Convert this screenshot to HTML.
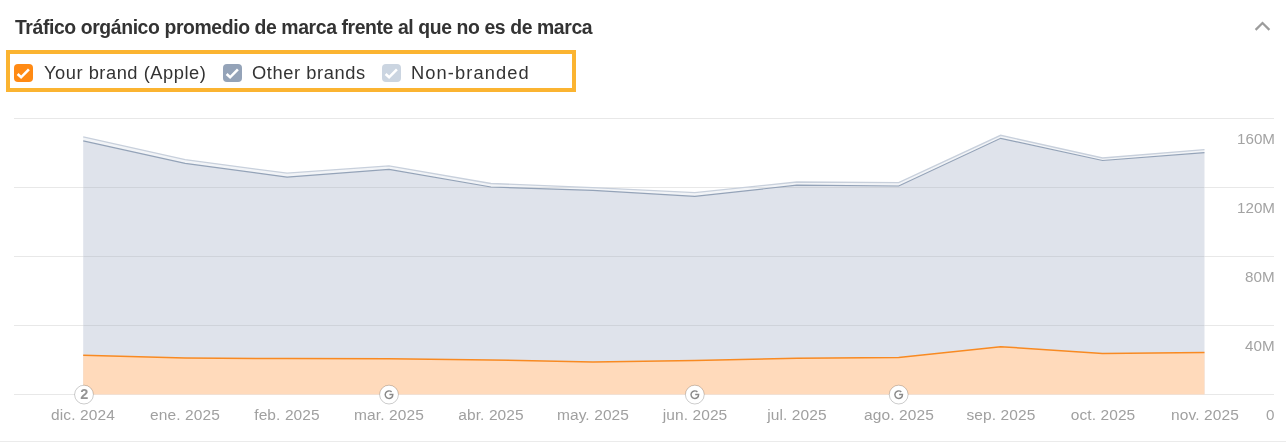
<!DOCTYPE html>
<html><head><meta charset="utf-8"><style>
html,body{margin:0;padding:0;background:#fff;}
body{width:1286px;height:446px;position:relative;overflow:hidden;font-family:"Liberation Sans",sans-serif;}
.title{will-change:transform;position:absolute;left:15px;top:16px;font-size:19.4px;letter-spacing:-0.4px;font-weight:bold;color:#333;white-space:nowrap;}
.legend{will-change:transform;position:absolute;left:6px;top:50px;width:562px;height:34px;border:4px solid #fbb431;}
.cb{position:absolute;top:10px;width:19px;height:18px;border-radius:4px;}
.cb svg{position:absolute;left:0;top:0;}
.lt{position:absolute;top:8px;font-size:18.3px;color:#333;white-space:nowrap;}
.xl{will-change:transform;position:absolute;top:406px;width:120px;text-align:center;font-size:15.5px;letter-spacing:0.1px;color:#a0a0a0;white-space:nowrap;}
.yl{will-change:transform;position:absolute;right:11px;font-size:15.2px;color:#a3a3a3;white-space:nowrap;}
.chev{position:absolute;left:1250px;top:15px;}
svg.chart{position:absolute;left:0;top:0;}
.bline{position:absolute;left:0;top:441px;width:1286px;height:1px;background:#ebebeb;}
</style></head><body>
<div class="title">Tráfico orgánico promedio de marca frente al que no es de marca</div>
<svg class="chev" width="26" height="20" viewBox="0 0 26 20"><path d="M5.6,14.9 L12.5,8 L19.4,14.9" fill="none" stroke="#9c9c9c" stroke-width="2.2"/></svg>
<div class="legend">
  <div class="cb" style="left:4px;background:#ff8a14"><svg width="19" height="18"><path d="M3.6,10 L7.1,13.3 L14.9,5.4" fill="none" stroke="#fff" stroke-width="2.6"/></svg></div>
  <div class="lt" style="left:34px;letter-spacing:0.53px">Your brand (Apple)</div>
  <div class="cb" style="left:213px;background:#94a3b8"><svg width="19" height="18"><path d="M3.6,10 L7.1,13.3 L14.9,5.4" fill="none" stroke="#fff" stroke-width="2.6"/></svg></div>
  <div class="lt" style="left:242px;letter-spacing:0.58px">Other brands</div>
  <div class="cb" style="left:372px;background:#cbd5e1"><svg width="19" height="18"><path d="M3.6,10 L7.1,13.3 L14.9,5.4" fill="none" stroke="#fff" stroke-width="2.6"/></svg></div>
  <div class="lt" style="left:401px;letter-spacing:1.1px">Non-branded</div>
</div>
<svg class="chart" width="1286" height="446">
  <g stroke="#e8e8e8" stroke-width="1">
    <line x1="14" y1="118.5" x2="1274" y2="118.5"/>
    <line x1="14" y1="187.5" x2="1274" y2="187.5"/>
    <line x1="14" y1="256.5" x2="1274" y2="256.5"/>
    <line x1="14" y1="325.5" x2="1274" y2="325.5"/>
    <line x1="14" y1="394.5" x2="1274" y2="394.5"/>
  </g>
  <polygon points="83.20,136.80 185.14,159.60 287.07,173.20 389.01,165.90 490.95,183.50 592.88,187.60 694.82,192.70 796.75,182.00 898.69,182.70 1000.63,135.30 1102.56,158.00 1204.50,149.60 1204.50,152.70 1102.56,160.50 1000.63,138.30 898.69,186.00 796.75,185.20 694.82,196.40 592.88,190.40 490.95,187.00 389.01,169.40 287.07,177.10 185.14,163.30 83.20,140.90" fill="#f2f4f7"/>
  <polygon points="83.20,140.90 185.14,163.30 287.07,177.10 389.01,169.40 490.95,187.00 592.88,190.40 694.82,196.40 796.75,185.20 898.69,186.00 1000.63,138.30 1102.56,160.50 1204.50,152.70 1204.50,394.5 83.20,394.5" fill="#dfe3eb"/>
  <clipPath id="cp"><polygon points="83.20,136.80 185.14,159.60 287.07,173.20 389.01,165.90 490.95,183.50 592.88,187.60 694.82,192.70 796.75,182.00 898.69,182.70 1000.63,135.30 1102.56,158.00 1204.50,149.60 1204.50,394.5 83.20,394.5"/></clipPath>
  <g stroke="rgba(0,0,0,0.07)" stroke-width="1" clip-path="url(#cp)">
    <line x1="83.20" y1="187.5" x2="1204.50" y2="187.5"/>
    <line x1="83.20" y1="256.5" x2="1204.50" y2="256.5"/>
    <line x1="83.20" y1="325.5" x2="1204.50" y2="325.5"/>
  </g>
  <polyline points="83.20,136.80 185.14,159.60 287.07,173.20 389.01,165.90 490.95,183.50 592.88,187.60 694.82,192.70 796.75,182.00 898.69,182.70 1000.63,135.30 1102.56,158.00 1204.50,149.60" fill="none" stroke="#c8d0dc" stroke-width="1.3"/>
  <polyline points="83.20,140.90 185.14,163.30 287.07,177.10 389.01,169.40 490.95,187.00 592.88,190.40 694.82,196.40 796.75,185.20 898.69,186.00 1000.63,138.30 1102.56,160.50 1204.50,152.70" fill="none" stroke="#94a3b8" stroke-width="1.2"/>
  <polygon points="83.20,355.20 185.14,358.00 287.07,358.60 389.01,358.80 490.95,360.00 592.88,362.00 694.82,360.60 796.75,358.30 898.69,357.50 1000.63,346.70 1102.56,353.50 1204.50,352.50 1204.50,394.5 83.20,394.5" fill="#ffdabb"/>
  <polyline points="83.20,355.20 185.14,358.00 287.07,358.60 389.01,358.80 490.95,360.00 592.88,362.00 694.82,360.60 796.75,358.30 898.69,357.50 1000.63,346.70 1102.56,353.50 1204.50,352.50" fill="none" stroke="#f88a22" stroke-width="1.5"/>
  <g transform="translate(84,394.6)"><circle r="9.4" fill="#fff" stroke="rgba(0,0,0,0.2)" stroke-width="1"/>
  <text x="0.2" y="4.8" text-anchor="middle" font-family="Liberation Sans" font-weight="bold" font-size="14.5" fill="#949494">2</text></g>
  <g transform="translate(389.01,394.6)"><circle r="9.4" fill="#fff" stroke="rgba(0,0,0,0.2)" stroke-width="1"/>
<path d="M2.6,-2.7 A3.8,3.8 0 1 0 3.8,-0.1 L0.4,-0.1" fill="none" stroke="#8a8a8a" stroke-width="1.45"/></g>
  <g transform="translate(694.82,394.6)"><circle r="9.4" fill="#fff" stroke="rgba(0,0,0,0.2)" stroke-width="1"/>
<path d="M2.6,-2.7 A3.8,3.8 0 1 0 3.8,-0.1 L0.4,-0.1" fill="none" stroke="#8a8a8a" stroke-width="1.45"/></g>
  <g transform="translate(898.69,394.6)"><circle r="9.4" fill="#fff" stroke="rgba(0,0,0,0.2)" stroke-width="1"/>
<path d="M2.6,-2.7 A3.8,3.8 0 1 0 3.8,-0.1 L0.4,-0.1" fill="none" stroke="#8a8a8a" stroke-width="1.45"/></g>
</svg>
<div class="xl" style="left:23.2px">dic. 2024</div>
<div class="xl" style="left:125.1px">ene. 2025</div>
<div class="xl" style="left:227.1px">feb. 2025</div>
<div class="xl" style="left:329.0px">mar. 2025</div>
<div class="xl" style="left:430.9px">abr. 2025</div>
<div class="xl" style="left:532.9px">may. 2025</div>
<div class="xl" style="left:634.8px">jun. 2025</div>
<div class="xl" style="left:736.8px">jul. 2025</div>
<div class="xl" style="left:838.7px">ago. 2025</div>
<div class="xl" style="left:940.6px">sep. 2025</div>
<div class="xl" style="left:1042.6px">oct. 2025</div>
<div class="xl" style="left:1144.5px">nov. 2025</div>
<div class="yl" style="top:129.9px;">160M</div>
<div class="yl" style="top:198.9px;">120M</div>
<div class="yl" style="top:267.9px;">80M</div>
<div class="yl" style="top:336.9px;">40M</div>
<div class="yl" style="top:405.9px;right:12px">0</div>
<div class="bline"></div>
</body></html>
